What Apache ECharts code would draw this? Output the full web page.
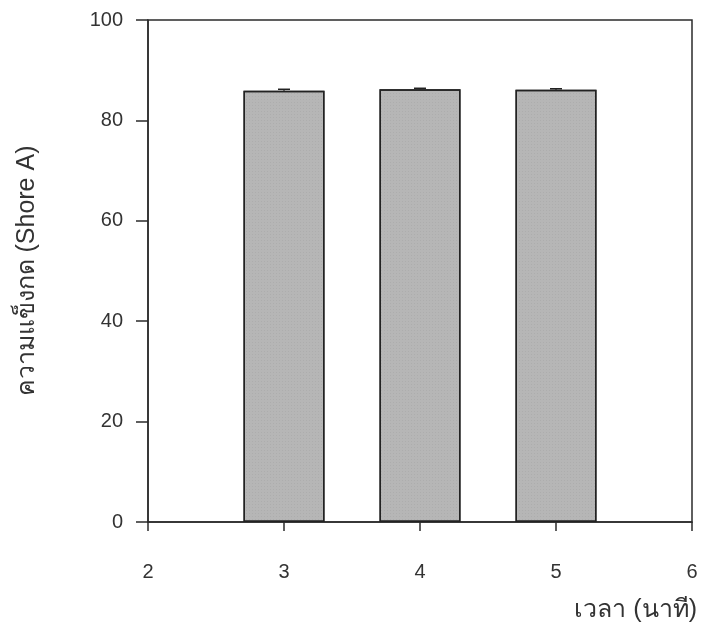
<!DOCTYPE html>
<html>
<head>
<meta charset="utf-8">
<script src="https://cdn.jsdelivr.net/npm/echarts@6/dist/echarts.min.js"></script>
<style>
  html, body { margin: 0; padding: 0; background: #fff; }
  #chart { width: 706px; height: 637px; }
</style>
</head>
<body>
<div id="chart"></div>
<script>
// Hardness (Shore A) against mixing time (minutes)
const times = [3, 4, 5];
const hardness = [85.9, 86.2, 86.1];
const hardnessErr = [0.3, 0.2, 0.2];
const xTicks = [2, 3, 4, 5, 6];
const yTicks = [0, 20, 40, 60, 80, 100];

const chart = echarts.init(document.getElementById('chart'));
const font = "'Liberation Sans', Arial, sans-serif";
const ink = '#333333';

chart.setOption({
  animation: false,
  backgroundColor: '#ffffff',
  grid: { left: 148, right: 14, top: 20, bottom: 115, show: true, borderColor: '#2b2b2b', borderWidth: 1.5 },
  xAxis: {
    type: 'value',
    min: xTicks[0], max: xTicks[xTicks.length - 1], interval: 1,
    name: 'เวลา (นาที)',
    nameLocation: 'end',
    nameGap: 5,
    nameTextStyle: { fontFamily: font, fontSize: 25, color: ink, align: 'right', verticalAlign: 'top', padding: [76, 0, 0, 0] },
    axisLine: { show: true, onZero: false, lineStyle: { color: '#2b2b2b', width: 1.5 } },
    axisTick: { show: true, inside: false, length: 9, lineStyle: { color: '#2b2b2b', width: 1.5 } },
    axisLabel: { fontFamily: font, fontSize: 20, color: ink, margin: 40 },
    splitLine: { show: false }
  },
  yAxis: {
    type: 'value',
    min: yTicks[0], max: yTicks[yTicks.length - 1], interval: 20,
    name: 'ความแข็งกด (Shore A)',
    nameLocation: 'middle',
    nameGap: 108,
    nameTextStyle: { fontFamily: font, fontSize: 25, color: ink },
    axisLine: { show: true, lineStyle: { color: '#2b2b2b', width: 1.5 } },
    axisTick: { show: true, inside: false, length: 12, lineStyle: { color: '#2b2b2b', width: 1.5 } },
    axisLabel: { fontFamily: font, fontSize: 20, color: ink, margin: 25 },
    splitLine: { show: false }
  },
  series: [
    {
      type: 'bar',
      data: times.map((t, i) => [t, hardness[i]]),
      barWidth: 81,
      itemStyle: {
        color: '#b6b6b6',
        borderColor: '#222',
        borderWidth: 1.5,
        decal: {
          symbol: 'rect',
          symbolSize: 0.5,
          color: 'rgba(90,90,90,0.35)',
          dashArrayX: [1, 2],
          dashArrayY: [1, 2],
          rotation: 0
        }
      }
    },
    {
      type: 'custom',
      data: times.map((t, i) => [t, hardness[i], hardnessErr[i]]),
      renderItem: function (params, api) {
        const x = api.value(0);
        const v = api.value(1);
        const e = api.value(2);
        const hi = api.coord([x, v + e]);
        const lo = api.coord([x, v]);
        const half = 6;
        return {
          type: 'group',
          children: [
            { type: 'line', shape: { x1: hi[0], y1: hi[1], x2: lo[0], y2: lo[1] }, style: { stroke: '#222', lineWidth: 1.5 } },
            { type: 'line', shape: { x1: hi[0] - half, y1: hi[1], x2: hi[0] + half, y2: hi[1] }, style: { stroke: '#222', lineWidth: 1.5 } }
          ]
        };
      },
      z: 5
    }
  ]
});
</script>
</body>
</html>
